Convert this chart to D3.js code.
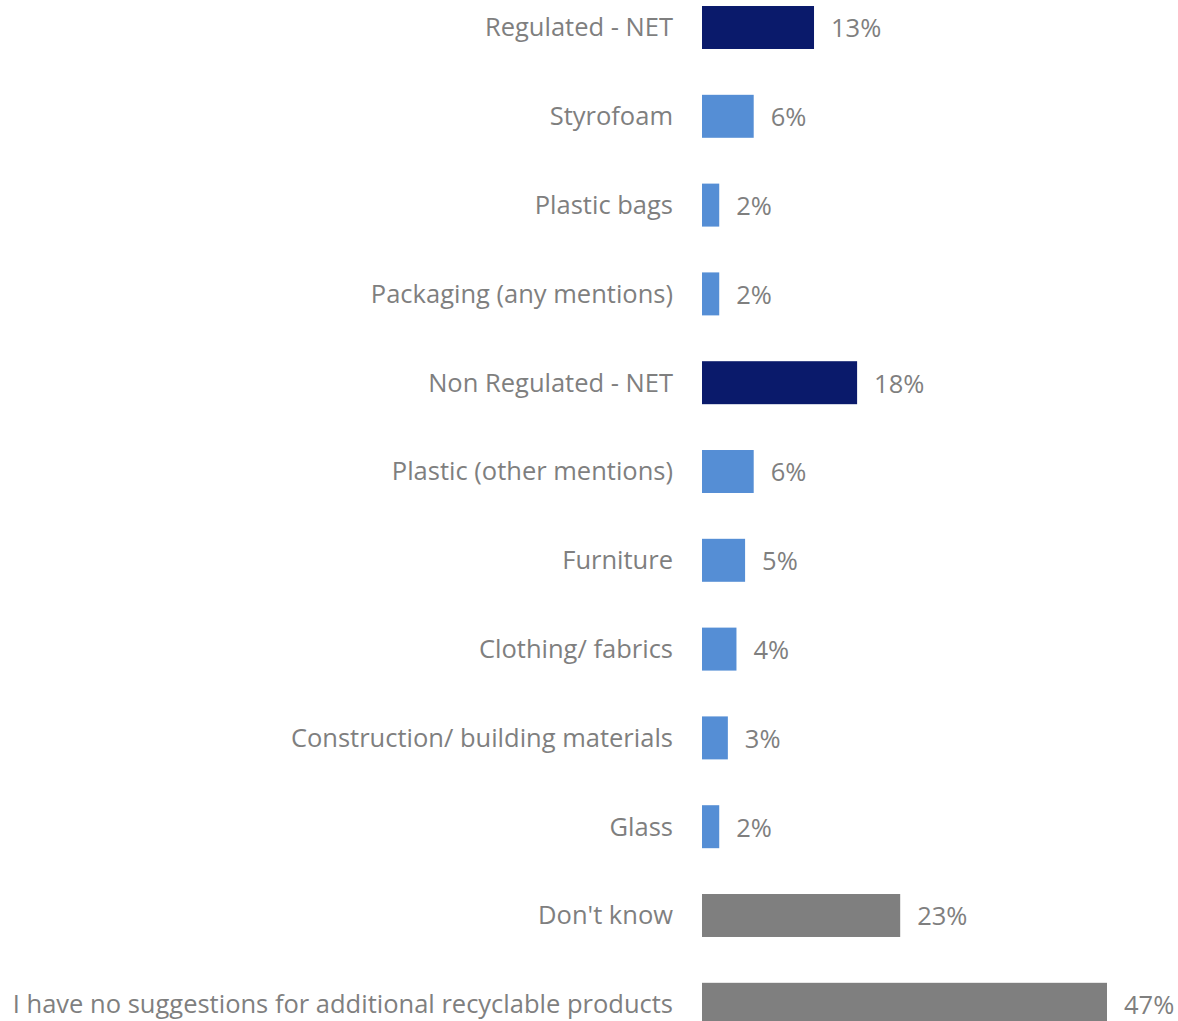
<!DOCTYPE html>
<html>
<head>
<meta charset="utf-8">
<script src="https://cdn.jsdelivr.net/npm/d3@7"></script>
<style>
  html, body { margin: 0; padding: 0; background: #ffffff; }
  svg { display: block; }
  text { font-family: "Open Sans", sans-serif; }
</style>
</head>
<body>
<svg id="chart" width="1178" height="1021"></svg>
<script>
// Categories, top to bottom
const categories = [
  "Regulated - NET",
  "Styrofoam",
  "Plastic bags",
  "Packaging (any mentions)",
  "Non Regulated - NET",
  "Plastic (other mentions)",
  "Furniture",
  "Clothing/ fabrics",
  "Construction/ building materials",
  "Glass",
  "Don't know",
  "I have no suggestions for additional recyclable products"
];

// Share of respondents (%)
const values = [13, 6, 2, 2, 18, 6, 5, 4, 3, 2, 23, 47];

// Row kind: net totals, individual mentions, other answers
const groups = ["net", "item", "item", "item", "net", "item", "item", "item", "item", "item", "other", "other"];

const palette = { net: "#0a1a6b", item: "#558ed5", other: "#7f7f7f" };

const data = categories.map((c, i) => ({ category: c, value: values[i], group: groups[i] }));

const svg = d3.select("#chart");
const barLeft = 702;
const fontSize = 25.5;

const x = d3.scaleLinear().domain([0, 47]).range([0, 405]);

const y = d3.scaleBand()
  .domain(categories)
  .range([-16.9, -16.9 + 12 * 88.8])
  .paddingInner(0.516)
  .paddingOuter(0.258);

const g = svg.append("g");

// Bars
g.selectAll("rect.bar")
  .data(data)
  .join("rect")
  .attr("class", "bar")
  .attr("x", barLeft)
  .attr("y", d => y(d.category))
  .attr("width", d => x(d.value))
  .attr("height", y.bandwidth())
  .attr("fill", d => palette[d.group]);

// Category labels
g.selectAll("text.cat")
  .data(data)
  .join("text")
  .attr("class", "cat")
  .attr("x", 673)
  .attr("y", d => y(d.category) + y.bandwidth() / 2)
  .attr("dy", "0.35em")
  .attr("text-anchor", "end")
  .attr("font-size", fontSize)
  .attr("fill", "#7f7f7f")
  .text(d => d.category);

// Value labels
g.selectAll("text.val")
  .data(data)
  .join("text")
  .attr("class", "val")
  .attr("x", d => barLeft + x(d.value) + 17)
  .attr("y", d => y(d.category) + y.bandwidth() / 2 + 1)
  .attr("dy", "0.35em")
  .attr("font-size", fontSize)
  .attr("fill", "#7f7f7f")
  .text(d => d.value + "%");
</script>
</body>
</html>
